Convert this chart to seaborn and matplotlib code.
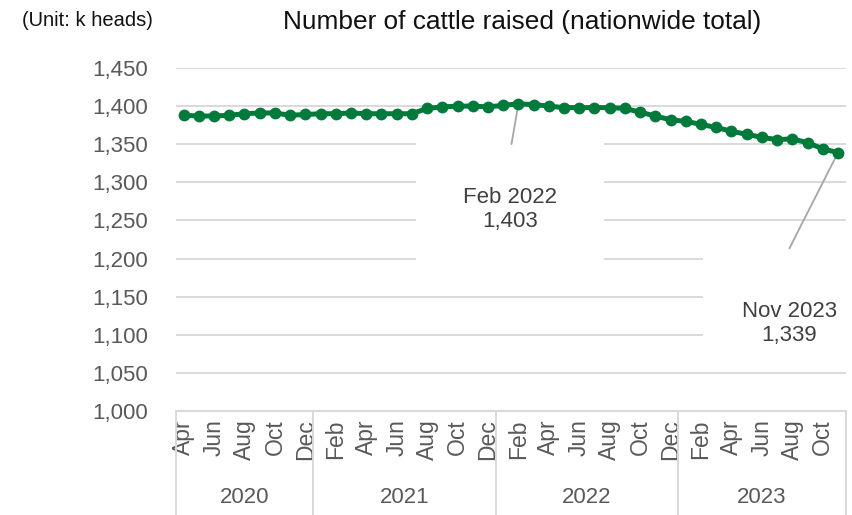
import matplotlib
matplotlib.use("Agg")
import matplotlib.pyplot as plt
import numpy as np
import pandas as pd
import seaborn as sns
from matplotlib.path import Path
from matplotlib.transforms import blended_transform_factory

# Monthly number of cattle raised, nationwide total (thousand heads), Apr 2020 - Nov 2023
years = [2020] * 9 + [2021] * 12 + [2022] * 12 + [2023] * 11
months = (["Apr", "May", "Jun", "Jul", "Aug", "Sep", "Oct", "Nov", "Dec"]
          + ["Jan", "Feb", "Mar", "Apr", "May", "Jun", "Jul", "Aug", "Sep", "Oct", "Nov", "Dec"] * 2
          + ["Jan", "Feb", "Mar", "Apr", "May", "Jun", "Jul", "Aug", "Sep", "Oct", "Nov"])
cattle = [1388, 1387, 1387, 1388, 1390, 1391, 1391, 1388, 1389,
          1390, 1390, 1391, 1390, 1390, 1390, 1390, 1397, 1399, 1400, 1400, 1399,
          1401, 1403, 1402, 1400, 1398, 1398, 1398, 1398, 1397, 1392, 1387, 1382,
          1380, 1376, 1372, 1367, 1363, 1359, 1356, 1357, 1352, 1344, 1339]
shown_months = ["Feb", "Apr", "Jun", "Aug", "Oct", "Dec"]
y_ticks = list(range(1000, 1451, 50))
callouts = [("Feb", 2022), ("Nov", 2023)]

df = pd.DataFrame({"idx": np.arange(len(cattle)), "month": months,
                   "year": years, "cattle": cattle})

sns.set_theme(style="white")
plt.rcParams["font.family"] = ["Liberation Sans", "DejaVu Sans"]

GREEN = "#007A3A"
GRID = "#D9D9D9"
TXT = "#595959"


def padded_box(left, right, top, bottom):
    """Rectangular label background with separate padding per side (in font sizes)."""
    def style(x0, y0, width, height, mutation_size):
        l, r = left * mutation_size, right * mutation_size
        t, b = top * mutation_size, bottom * mutation_size
        xa, xb = x0 - l, x0 + width + r
        ya, yb = y0 - b, y0 + height + t
        return Path([(xa, ya), (xb, ya), (xb, yb), (xa, yb), (xa, ya)],
                    closed=True)
    return style


fig = plt.figure(figsize=(8.53, 5.15), dpi=100)
W, H = 853, 515
ax = fig.add_axes([176 / W, 1 - 411 / H, (845.6 - 176) / W, (411 - 68) / H])

sns.lineplot(data=df, x="idx", y="cattle", ax=ax, color=GREEN, linewidth=3.6,
             marker="o", markersize=8.5, markeredgewidth=0, zorder=4)

n = len(df)
ax.set_xlim(-0.5, n - 0.5)
ax.set_ylim(y_ticks[0], y_ticks[-1])
ax.set_yticks(y_ticks)
ax.set_yticklabels([f"{v:,}" for v in y_ticks], fontsize=16, color=TXT)
ax.yaxis.grid(True, color=GRID, linewidth=1.4)
ax.set_axisbelow(True)
ax.set_xlabel("")
ax.set_ylabel("")
for side in ["left", "right", "top"]:
    ax.spines[side].set_visible(False)
ax.spines["bottom"].set_color(GRID)
ax.spines["bottom"].set_linewidth(1.4)
ax.tick_params(axis="y", length=0, pad=20)

tick_idx = df.index[df["month"].isin(shown_months)]
ax.set_xticks(tick_idx)
ax.set_xticklabels(df.loc[tick_idx, "month"], rotation=90, fontsize=16.5, color=TXT)
ax.tick_params(axis="x", length=0, pad=6)

# Year grouping below the month labels
blend = blended_transform_factory(ax.transData, ax.transAxes)
bounds = [-0.5]
for yr in sorted(df["year"].unique()):
    sub = df[df["year"] == yr]
    lo, hi = sub["idx"].min() - 0.5, sub["idx"].max() + 0.5
    bounds.append(hi)
    ax.text((lo + hi) / 2, -0.251, str(yr), transform=blend, ha="center",
            va="center", fontsize=16, color=TXT)
for b in bounds:
    ax.plot([b, b], [0, -0.31], transform=blend, color=GRID, linewidth=1.4,
            clip_on=False)

# Callouts for the peak and the latest month
label_offsets = {("Feb", 2022): (-6, -76), ("Nov", 2023): (-35, -123)}
leader_offsets = {("Feb", 2022): (-5, -29), ("Nov", 2023): (-35, -69)}
box_pads = {("Feb", 2022): (2.1, 2.1, 2.05, 1.6),
            ("Nov", 2023): (1.75, 1.5, 2.1, 0.7)}
for mon, yr in callouts:
    row = df[(df["month"] == mon) & (df["year"] == yr)].iloc[0]
    ax.annotate(f"{mon} {yr}\n{row['cattle']:,}", xy=(row["idx"], row["cattle"]),
                xytext=label_offsets[(mon, yr)], textcoords="offset points",
                ha="center", va="center", fontsize=16, color="#404040",
                linespacing=1.2, annotation_clip=False, zorder=3,
                bbox=dict(boxstyle=padded_box(*box_pads[(mon, yr)]),
                          fc="white", ec="none"))
    ax.annotate("", xy=(row["idx"], row["cattle"]),
                xytext=leader_offsets[(mon, yr)], textcoords="offset points",
                arrowprops=dict(arrowstyle="-", color="#A6A6A6", lw=1.3,
                                shrinkA=0, shrinkB=0), zorder=3.5)

fig.text(522 / W, 1 - 22 / H, "Number of cattle raised (nationwide total)",
         ha="center", va="center", fontsize=18.9, color="#111111")
fig.text(22 / W, 1 - 21 / H, "(Unit: k heads)", ha="left", va="center",
         fontsize=14.5, color="#111111")

fig.savefig("out.png", dpi=100)
